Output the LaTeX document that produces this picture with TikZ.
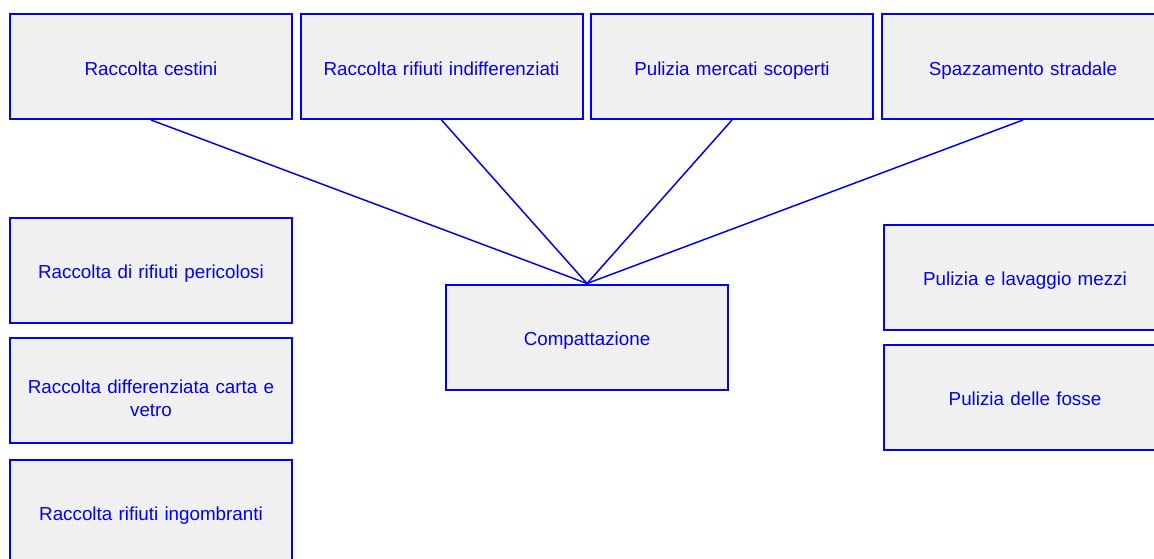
\documentclass[tikz,border=0pt]{standalone}
\usepackage{fontspec}
\setmainfont{Liberation Sans}
\definecolor{boxgray}{RGB}{240,240,240}
\begin{document}
\begin{tikzpicture}[x=1pt,y=-1pt,
        task/.style={draw=blue,fill=boxgray,line width=2pt,minimum width=282pt,minimum height=105pt,
            inner sep=0pt,text width=262pt,text height=19pt,text depth=2pt,align=center,text=blue,
            font=\fontsize{18.8}{23}\selectfont},
        link/.style={draw=blue,line width=1.5pt}]
        \useasboundingbox (0,0) rectangle (1154,558);
        \clip (0,0) rectangle (1154,558);

        \node[task] (cestini) at (151,66.5) {Raccolta cestini};
        \node[task] (indiff) at (441.5,66.5) {Raccolta rifiuti indifferenziati};
        \node[task] (mercati) at (732,66.5) {Pulizia mercati scoperti};
        \node[task] (spazz) at (1023,66.5) {Spazzamento stradale};

        \node[task] (pericolosi) at (151,270) {Raccolta di rifiuti pericolosi};
        \node[task,text depth=12pt] (cartavetro) at (151,390) {Raccolta differenziata carta e\\vetro};
        \node[task] (ingombranti) at (151,512) {Raccolta rifiuti ingombranti};

        \node[task] (compatt) at (587,337) {Compattazione};

        \node[task] (mezzi) at (1025,277) {Pulizia e lavaggio mezzi};
        \node[task] (fosse) at (1025,397) {Pulizia delle fosse};

        \draw[link] (cestini.south) -- (compatt.north);
        \draw[link] (indiff.south) -- (compatt.north);
        \draw[link] (mercati.south) -- (compatt.north);
        \draw[link] (spazz.south) -- (compatt.north);
    \end{tikzpicture}
\end{document}
